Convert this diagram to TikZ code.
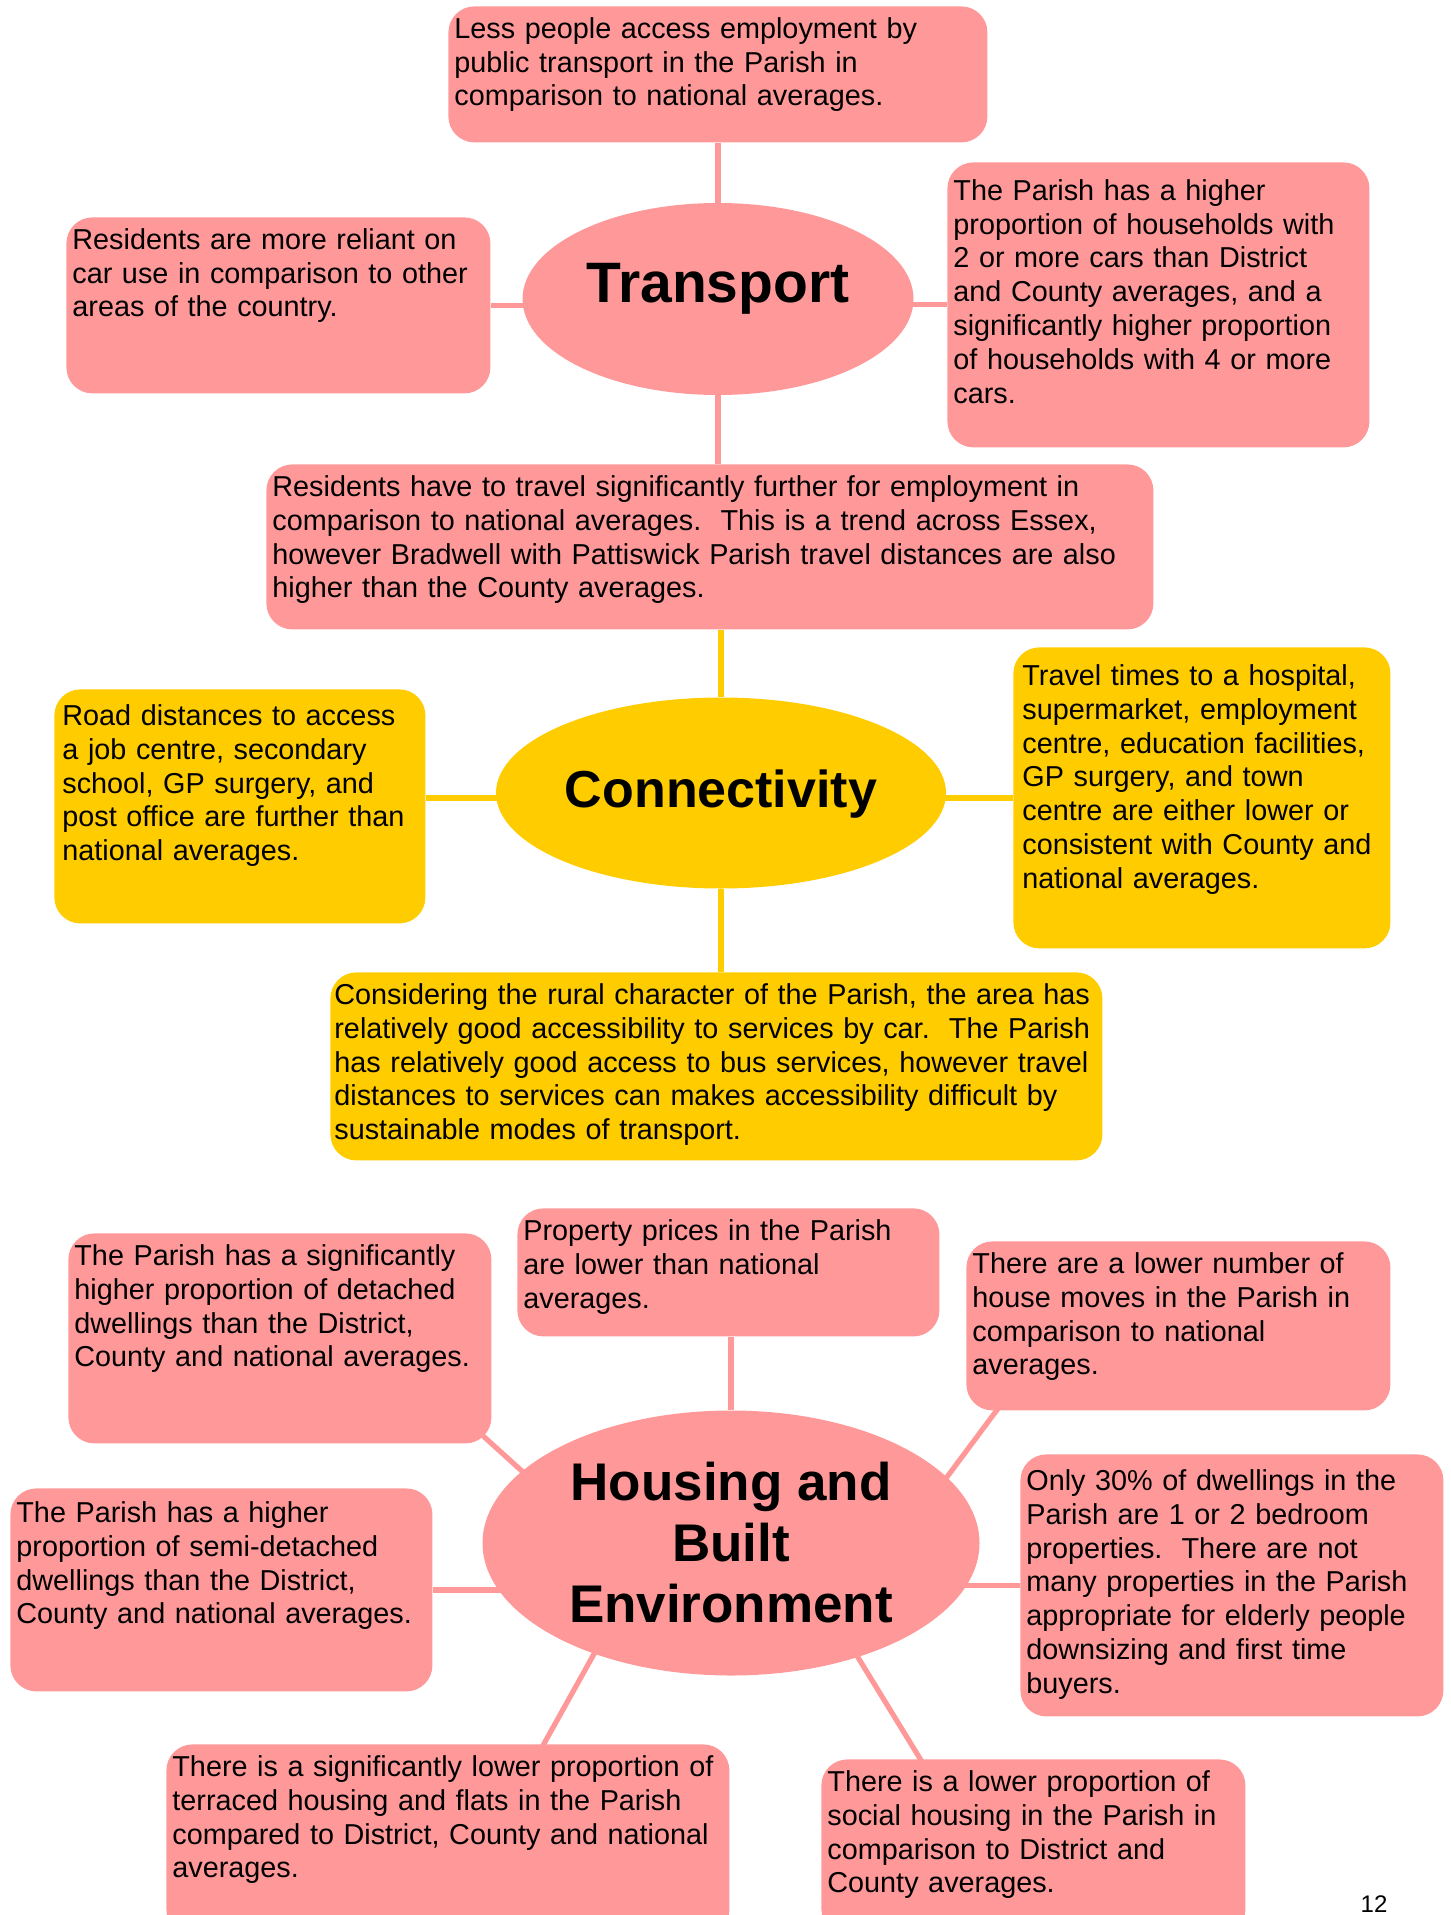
\documentclass[tikz,border=0pt]{standalone}
\usepackage{fontspec}
\setmainfont{Liberation Sans}
\usetikzlibrary{shapes.geometric}
\definecolor{pinkfill}{HTML}{FF9999}
\definecolor{yellowfill}{HTML}{FFCC00}
\pgfdeclarelayer{background}
\pgfsetlayers{background,main}
\tikzset{
  textbox/.style={anchor=north west, rounded corners=13pt, inner xsep=3pt, inner ysep=5pt,
    align=left, text height=11pt, font=\fontsize{14.4}{16.9}\selectfont},
  pinkbox/.style={textbox, fill=pinkfill},
  yellowbox/.style={textbox, fill=yellowfill},
  hub/.style={ellipse, inner sep=0pt, align=center},
  link/.style={line width=2.6pt},
}
\begin{document}
\begin{tikzpicture}[x=0.5pt, y=-0.5pt]
      \useasboundingbox (0,0) rectangle (1450,1915);
      \node[pinkbox, text width=263.5pt, text depth=47pt] (access) at (448,6)
        {Less people access employment by\\public transport in the Parish in\\comparison to national averages.};
      \node[pinkbox, text width=206pt, text depth=67pt] (car) at (66,217)
        {Residents are more reliant on\\car use in comparison to other\\areas of the country.};
      \node[pinkbox, text width=205pt, text height=14pt, text depth=118.5pt] (cars) at (947,162)
        {The Parish has a higher\\proportion of households with\\2 or more cars than District\\and County averages, and a\\significantly higher proportion\\of households with 4 or more\\cars.};
      \node[pinkbox, text width=437.5pt, text depth=61.5pt] (further) at (266,464)
        {Residents have to travel significantly further for employment in\\comparison to national averages.\ \ This is a trend across Essex,\\however Bradwell with Pattiswick Parish travel distances are also\\higher than the County averages.};
      \node[hub, fill=pinkfill, minimum width=195.5pt, minimum height=96pt,
        font=\bfseries\fontsize{28.5}{33}\selectfont, text height=21pt, text depth=17pt] (transport) at (718,299) {Transport};

      \node[yellowbox, inner xsep=4pt, text width=177.5pt, text height=13pt, text depth=94pt] (road) at (54,689)
        {Road distances to access\\a job centre, secondary\\school, GP surgery, and\\post office are further than\\national averages.};
      \node[yellowbox, inner xsep=4.5pt, text width=179.5pt, text height=14pt, text depth=126.5pt] (times) at (1013,647)
        {Travel times to a hospital,\\supermarket, employment\\centre, education facilities,\\GP surgery, and town\\centre are either lower or\\consistent with County and\\national averages.};
      \node[yellowbox, inner xsep=2pt, text width=382pt, text depth=73pt] (rural) at (330,972)
        {Considering the rural character of the Parish, the area has\\relatively good accessibility to services by car.\ \ The Parish\\has relatively good access to bus services, however travel\\distances to services can makes accessibility difficult by\\sustainable modes of transport.};
      \node[hub, fill=yellowfill, minimum width=225pt, minimum height=95.5pt,
        font=\bfseries\fontsize{26}{30}\selectfont, text height=19pt, text depth=4.6pt] (connectivity) at (721,793) {Connectivity};

      \node[pinkbox, text width=205.5pt, text depth=84pt] (detached) at (68,1233)
        {The Parish has a significantly\\higher proportion of detached\\dwellings than the District,\\County and national averages.};
      \node[pinkbox, text width=205pt, text depth=43pt] (prices) at (517,1208)
        {Property prices in the Parish\\are lower than national\\averages.};
      \node[pinkbox, text width=206pt, text depth=63.5pt] (moves) at (966,1241)
        {There are a lower number of\\house moves in the Parish in\\comparison to national\\averages.};
      \node[pinkbox, text width=205pt, text height=12pt, text depth=79.5pt] (semi) at (10,1488)
        {The Parish has a higher\\proportion of semi-detached\\dwellings than the District,\\County and national averages.};
      \node[pinkbox, text width=205.5pt, text height=13pt, text depth=108pt] (small) at (1020,1454)
        {Only 30\% of dwellings in the\\Parish are 1 or 2 bedroom\\properties.\ \ There are not\\many properties in the Parish\\appropriate for elderly people\\downsizing and first time\\buyers.};
      \node[pinkbox, text width=275.5pt, text depth=74.5pt] (terraced) at (166,1744)
        {There is a significantly lower proportion of\\terraced housing and flats in the Parish\\compared to District, County and national\\averages.};
      \node[pinkbox, text width=206pt, text depth=67pt] (social) at (821,1759)
        {There is a lower proportion of\\social housing in the Parish in\\comparison to District and\\County averages.};
      \node[hub, fill=pinkfill, minimum width=248.5pt, minimum height=132.5pt,
        font=\bfseries\fontsize{26.5}{30.5}\selectfont] (housing) at (731,1543) {Housing and\\Built\\Environment};

      \node[anchor=base, font=\fontsize{12}{14}\selectfont] (page) at (1374,1912) {12};

      \begin{pgfonlayer}{background}
        \draw[link, pinkfill] (transport) to (transport |- access.south);
        \draw[link, pinkfill] (car) to (car -| transport);
        \draw[link, pinkfill] (cars) to (cars -| transport);
        \draw[link, pinkfill] (transport) to (transport |- further.north);
        \draw[link, yellowfill] (connectivity) to (connectivity |- further.south);
        \draw[link, yellowfill] (road.east |- times) to (times -| connectivity);
        \draw[link, yellowfill] (times) to (times -| connectivity);
        \draw[link, yellowfill] (connectivity) to (connectivity |- rural.north);
        \draw[link, pinkfill] (housing) to (housing |- prices.south);
        \draw[link, pinkfill] (semi) to (semi -| housing);
        \draw[link, pinkfill] (small) to (small -| housing);
        \draw[link, pinkfill, shorten <=-4pt, shorten >=-6pt] (housing.161) to (detached.south east);
        \draw[link, pinkfill, shorten <=-4pt, shorten >=-6pt] (housing.17) to (moves.-155);
        \draw[link, pinkfill, shorten <=-4pt, shorten >=-6pt] (housing.-141) to (terraced.45.6);
        \draw[link, pinkfill, shorten <=-4pt, shorten >=-6pt] (housing.-42) to (social.142);
      \end{pgfonlayer}
    \end{tikzpicture}
\end{document}
